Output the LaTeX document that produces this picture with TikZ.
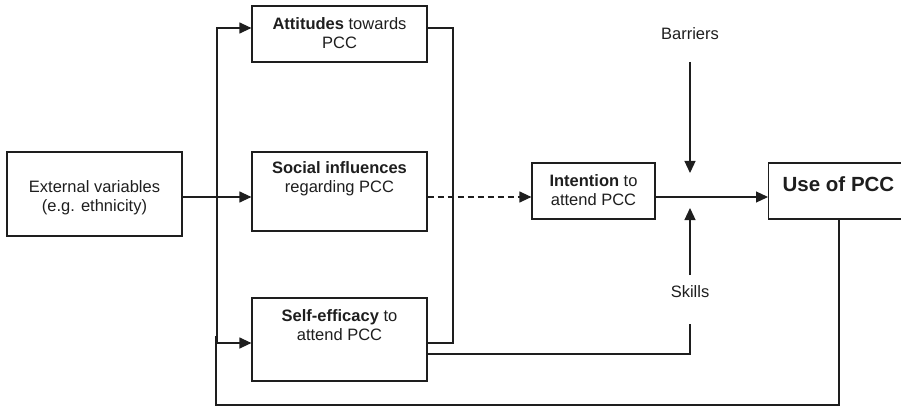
\documentclass[tikz,border=0pt]{standalone}
\usepackage{fontspec}
\setmainfont{Liberation Sans}
\usetikzlibrary{arrows.meta}
\definecolor{ink}{HTML}{1E1E1E}
\begin{document}
\begin{tikzpicture}[x=1pt,y=-1pt,
  every node/.style={text=ink, font=\fontsize{16.5}{19}\selectfont},
  box/.style={draw=ink, line width=1.2pt, rectangle, inner sep=0pt},
  txt/.style={align=center, inner sep=0pt},
  link/.style={draw=ink, line width=1.2pt},
  arr/.style={link, -{Triangle[length=12pt,width=11pt]}},
]
\useasboundingbox (0,0) rectangle (901,406);
\clip (0,0) rectangle (901,406);

% boxes
\node[box, minimum width=175pt, minimum height=84pt] (ext) at (94.5,194) {};
\node[box, minimum width=175pt, minimum height=56pt] (att) at (339.5,34) {};
\node[box, minimum width=175pt, minimum height=79pt] (soc) at (339.5,191.5) {};
\node[box, minimum width=175pt, minimum height=83pt] (self) at (339.5,339.5) {};
\node[box, minimum width=123pt, minimum height=56pt] (int) at (593.5,191) {};
\node[box, minimum width=142pt, minimum height=56pt, anchor=west] (use) at (768,191) {};

% texts
\node[txt] (ext-t) at (94.5,198) {External variables\\(e.g. ethnicity)};
\node[txt] (att-t) at (339.5,33) {\textbf{Attitudes} towards\\PCC};
\node[txt] (soc-t) at (339.5,179) {\textbf{Social influences}\\regarding PCC};
\node[txt] (self-t) at (339.5,325) {\textbf{Self-efficacy} to\\attend PCC};
\node[txt] (int-t) at (593.5,190) {\textbf{Intention} to\\attend PCC};
\node[txt, font=\fontsize{20.5}{24}\selectfont\bfseries] (use-t) at (838.5,184) {Use of PCC};
\node[txt] (bar) at (690,34) {Barriers};
\node[txt] (skl) at (690,292) {Skills};

% junction points
\coordinate (split) at (217,197);
\coordinate (bartop) at (690,62);
\coordinate (barend) at (690,173);
\coordinate (sklbot) at (690,275);
\coordinate (sklend) at (690,208);
\coordinate (selfend) at (690,324);
\coordinate (fbend) at (216,336);

% external variables feed the three determinants
\draw[link] (ext.east |- split) -- (split);
\draw[arr] (split) -- (soc.west |- split);
\draw[arr] (split) |- (att.west |- 0,28);
\draw[arr] (split) |- (self.west |- 0,343);

% attitudes and self-efficacy bracket on the right
\draw[link] (att.east |- 0,28) -| (453,200) |- (self.east |- 0,343);

% social influences to intention (dashed)
\draw[arr, dash pattern=on 6pt off 4pt] (soc.east |- 0,197) -- (int.west |- 0,197);

% intention to use
\draw[arr] (int.east |- 0,197) -- (use.west |- 0,197);

% barriers and skills moderate the intention-behaviour link
\draw[arr] (bartop) -- (barend);
\draw[arr] (sklbot) -- (sklend);

% self-efficacy towards skills
\draw[link] (self.east |- 0,354) -| (selfend);

% feedback from use back to the left
\draw[link] (use.south -| 839,0) |- (216,405) -- (fbend);
\end{tikzpicture}
\end{document}
